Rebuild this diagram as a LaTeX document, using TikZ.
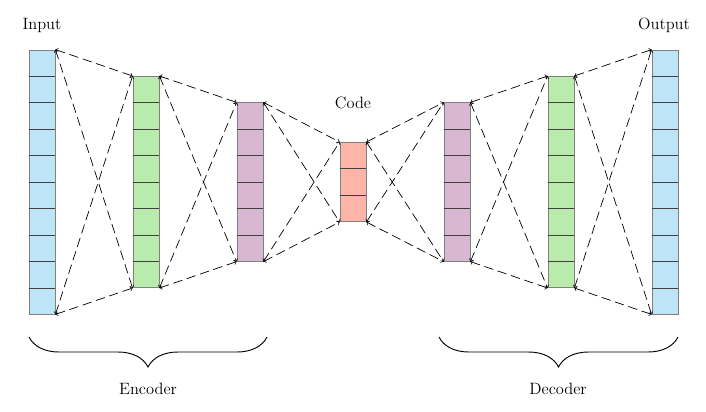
\documentclass[tikz,border=0pt]{standalone}
\usepackage{tikz}
\usetikzlibrary{calc,decorations.pathreplacing}

\definecolor{inblue}{RGB}{190,228,248}
\definecolor{hidgreen}{RGB}{185,236,172}
\definecolor{hidpurple}{RGB}{216,184,208}
\definecolor{codered}{RGB}{255,180,170}

\tikzset{
  layer/.style={draw=gray, line width=0.7pt, minimum width=0.78cm, inner sep=0pt},
  cellline/.style={draw=black!75, line width=0.6pt},
  link/.style={dash pattern=on 8pt off 4pt, <->, >=to, line width=0.6pt},
  lbl/.style={font=\fontsize{14}{16}\selectfont},
  curly/.style={decorate, decoration={brace, mirror, amplitude=0.9cm}, line width=0.8pt},
}

\begin{document}
\begin{tikzpicture}[x=0.03cm, y=-0.03cm]
    \useasboundingbox (0,0) rectangle (706,411);

    % layers
    \node[layer, fill=inblue, minimum height=7.92cm] (in) at (42,182) {};
    \node[layer, fill=hidgreen, minimum height=6.336cm] (enc1) at (146,182) {};
    \node[layer, fill=hidpurple, minimum height=4.752cm] (enc2) at (250,182) {};
    \node[layer, fill=codered, minimum height=2.376cm] (code) at (353,182) {};
    \node[layer, fill=hidpurple, minimum height=4.752cm] (dec1) at (457,182) {};
    \node[layer, fill=hidgreen, minimum height=6.336cm] (dec2) at (561,182) {};
    \node[layer, fill=inblue, minimum height=7.92cm] (out) at (665,182) {};

    % cells
    \foreach \l/\n in {in/10, enc1/8, enc2/6, code/3, dec1/6, dec2/8, out/10} {
        \pgfmathtruncatemacro{\m}{\n-1}
        \foreach \k in {1,...,\m}
            \draw[cellline] ($(\l.north west)!\k/\n!(\l.south west)$) -- ($(\l.north east)!\k/\n!(\l.south east)$);
    }

    % links
    \foreach \a/\b in {in/enc1, enc1/enc2, enc2/code, code/dec1, dec1/dec2, dec2/out} {
        \draw[link] (\a.north east) -- (\b.north west);
        \draw[link] (\a.north east) -- (\b.south west);
        \draw[link] (\a.south east) -- (\b.north west);
        \draw[link] (\a.south east) -- (\b.south west);
    }

    % labels
    \node[lbl] (inlbl) at (42,25) {Input};
    \node[lbl] (codelbl) at (353,103) {Code};
    \node[lbl] (outlbl) at (664,25) {Output};

    % braces
    \coordinate (encl) at (29,337);
    \coordinate (encr) at (267,337);
    \coordinate (decl) at (439,337);
    \coordinate (decr) at (678,337);
    \draw[curly] (encl) -- (encr);
    \draw[curly] (decl) -- (decr);
    \node[lbl] (enclbl) at (148,389) {Encoder};
    \node[lbl] (declbl) at (558,389) {Decoder};
\end{tikzpicture}
\end{document}
